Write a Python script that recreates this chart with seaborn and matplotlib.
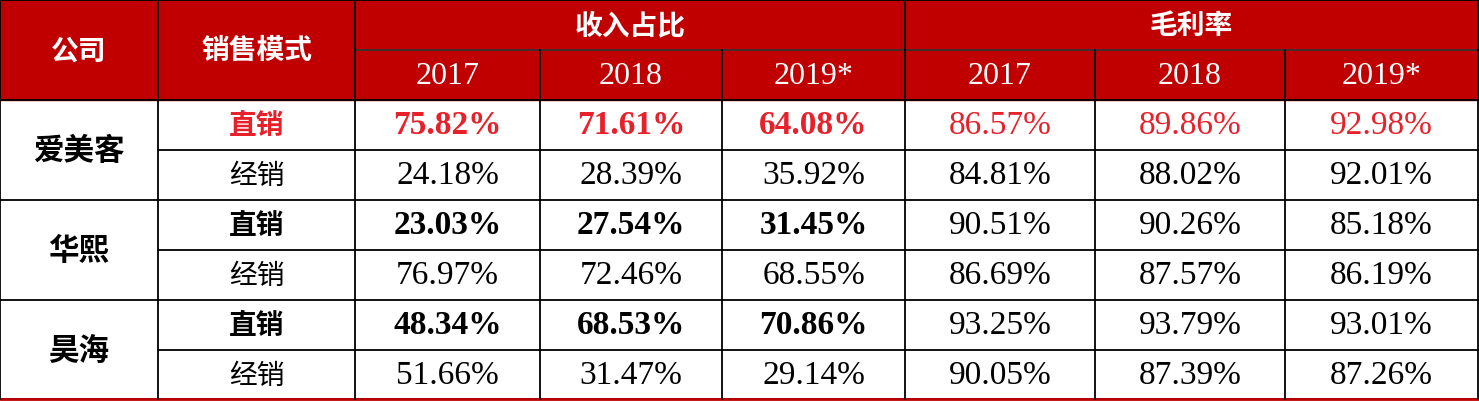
import matplotlib
matplotlib.use("Agg")
import matplotlib.pyplot as plt
import seaborn as sns

sns.set_theme(style="white")
plt.rcParams['font.family'] = ['Liberation Serif', 'Noto Sans CJK SC', 'DejaVu Sans']

companies = ["爱美客", "华熙", "昊海"]
modes = ["直销", "经销"]
years = ["2017", "2018", "2019*"]
group_titles = ["收入占比", "毛利率"]
revenue_share = [
    ["75.82%", "71.61%", "64.08%"], ["24.18%", "28.39%", "35.92%"],
    ["23.03%", "27.54%", "31.45%"], ["76.97%", "72.46%", "68.55%"],
    ["48.34%", "68.53%", "70.86%"], ["51.66%", "31.47%", "29.14%"],
]
gross_margin = [
    ["86.57%", "89.86%", "92.98%"], ["84.81%", "88.02%", "92.01%"],
    ["90.51%", "90.26%", "85.18%"], ["86.69%", "87.57%", "86.19%"],
    ["93.25%", "93.79%", "93.01%"], ["90.05%", "87.39%", "87.26%"],
]

W, H = 1479, 401
fig = plt.figure(figsize=(W/100, H/100), dpi=100)
ax = fig.add_axes([0, 0, 1, 1])
ax.set_xlim(0, W); ax.set_ylim(H, 0); ax.axis("off")

xs = [0, 158, 355, 540, 722, 905, 1095, 1285, 1478]
ys = [0, 50, 100, 150, 200, 250, 300, 350, 399]
RED = "#C00000"
TXTRED = "#E8202A"
CJK = ['Noto Sans CJK SC', 'DejaVu Sans']
SER = ['Liberation Serif', 'DejaVu Serif']

ax.add_patch(plt.Rectangle((0, 0), W, 100, color=RED, zorder=0))

def cx(i, j=None):
    j = i if j is None else j
    return (xs[i] + xs[j+1]) / 2
def cy(i, j=None):
    j = i if j is None else j
    return (ys[i] + ys[j+1]) / 2 + 1

def spaced(s):
    return "\u2009".join(s)

ax.text(cx(0), cy(0, 1), "公司", color="white", fontsize=20, fontweight="bold", family=CJK, ha="center", va="center")
ax.text(cx(1), cy(0, 1), "销售模式", color="white", fontsize=20, fontweight="bold", family=CJK, ha="center", va="center")
for g, t in enumerate(group_titles):
    ax.text(cx(2+3*g, 4+3*g), cy(0), t, color="white", fontsize=20, fontweight="bold", family=CJK, ha="center", va="center")
    for k, y in enumerate(years):
        ax.text(cx(2+3*g+k), cy(1), y, color="white", fontsize=23, family=SER, ha="center", va="center")

for r in range(6):
    row = 2 + r
    direct = (r % 2 == 0)
    first = (r == 0)
    if r % 2 == 0:
        ax.text(cx(0), cy(row, row+1), companies[r//2], color="black", fontsize=22, fontweight="bold", family=CJK, ha="center", va="center")
    col = TXTRED if first else "black"
    ax.text(cx(1), cy(row), modes[r % 2], color=col, fontsize=20, fontweight="bold" if direct else "normal", family=CJK, ha="center", va="center")
    for k in range(3):
        ax.text(cx(2+k), cy(row), revenue_share[r][k], color=col, fontsize=24,
                fontweight="bold" if direct else "normal", family=SER, ha="center", va="center")
        ax.text(cx(5+k), cy(row), gross_margin[r][k], color=col, fontsize=24, family=SER, ha="center", va="center")

lw = 1.3
for i, y in enumerate(ys):
    if i == 1:
        ax.plot([xs[2], xs[-1]], [y, y], color="#333333", lw=lw)
    elif i in (3, 5, 7):
        ax.plot([xs[1], xs[-1]], [y, y], color="black", lw=lw)
    else:
        ax.plot([0, W], [y, y], color="black", lw=lw)
ax.plot([0, W], [ys[-1], ys[-1]], color=RED, lw=2)
for j, x in enumerate(xs):
    if j in (3, 4, 6, 7):
        ax.plot([x, x], [ys[1], ys[-1]], color="black", lw=lw)
    else:
        ax.plot([x, x], [0, ys[-1]], color="black", lw=lw)

fig.savefig("out.png", dpi=100)
